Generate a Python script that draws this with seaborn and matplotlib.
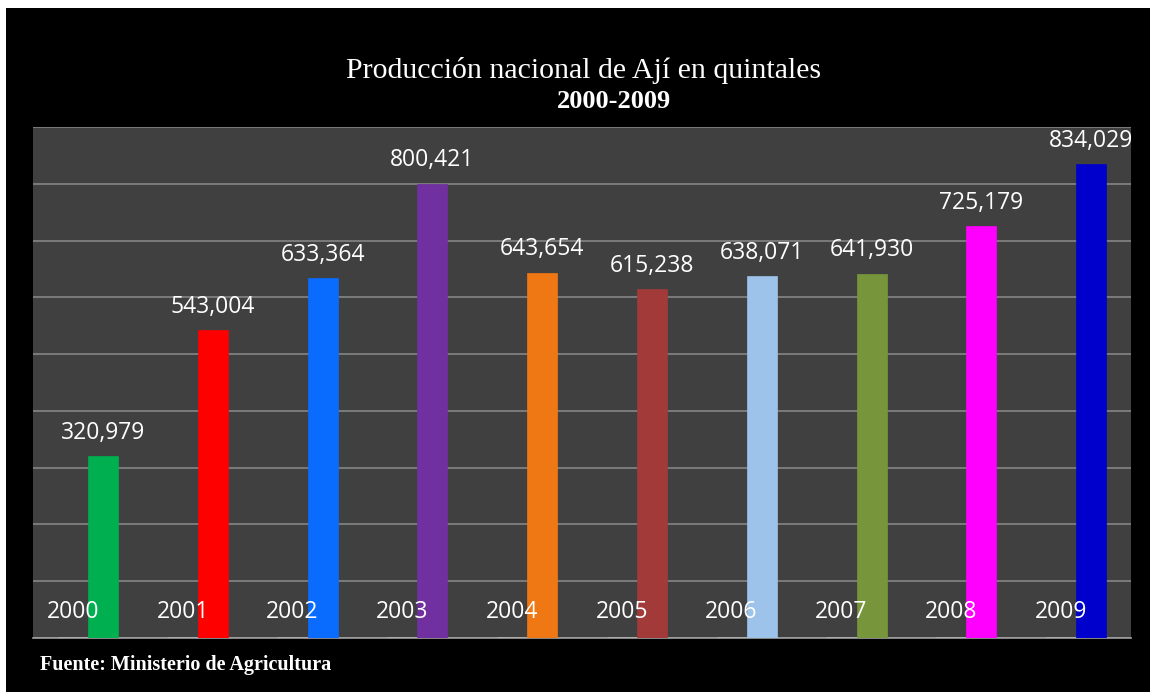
import seaborn as sns
import matplotlib.pyplot as plt
import pandas as pd
from matplotlib.patches import Rectangle

years = ["2000", "2001", "2002", "2003", "2004", "2005", "2006", "2007", "2008", "2009"]
produccion = [320979, 543004, 633364, 800421, 643654, 615238, 638071, 641930, 725179, 834029]
colores = ["#00b050", "#ff0000", "#0a6cff", "#7030a0", "#f07814", "#a33a3a",
           "#9dc3ea", "#77963c", "#ff00ff", "#0000cc"]

titulo = "Producción nacional de Ají en quintales"
subtitulo = "2000-2009"
fuente = "Fuente: Ministerio de Agricultura"

# long format: a zero "label" series next to the production series (Excel-style cluster)
df = pd.DataFrame({
    "anio": years * 2,
    "serie": ["Año"] * len(years) + ["Producción"] * len(years),
    "valor": [0] * len(years) + produccion,
})

sns.set_theme(style="dark")
plt.rcParams["font.family"] = ["Open Sans", "DejaVu Sans"]
serif = ["Liberation Serif", "DejaVu Serif"]

fig = plt.figure(figsize=(11.5, 6.92), dpi=100)
fig.patch.set_facecolor("white")
fig.patches.append(Rectangle((6 / 1150, 0), 1 - 6 / 1150, 1 - 8 / 692,
                             transform=fig.transFigure, facecolor="black",
                             edgecolor="none", zorder=-10))

ax = fig.add_axes([33 / 1150, 54 / 692, 1098 / 1150, 511 / 692])
ax.set_facecolor("#404040")

sns.barplot(data=df, x="anio", y="valor", hue="serie", order=years,
            width=0.55, dodge=True, gap=0, palette=["#3a5f8f", "#ffffff"],
            legend=False, ax=ax, zorder=3)

cont_anio, cont_prod = ax.containers[0], ax.containers[1]
for patch, c in zip(cont_prod, colores):
    patch.set_facecolor(c)
    patch.set_edgecolor(c)
    patch.set_linewidth(0.5)

ax.bar_label(cont_prod, labels=[f"{v:,}" for v in produccion], padding=8,
             color="white", fontsize=16.5, zorder=5)
ax.bar_label(cont_anio, labels=years, padding=10, color="white",
             fontsize=16.5, zorder=6)

ax.set_ylim(0, 900000)
ax.set_yticks(range(0, 900001, 100000))
ax.yaxis.grid(True, color="#858585", linewidth=1.2, zorder=0)
ax.xaxis.grid(False)
ax.set_xlim(-0.5, len(years) - 0.5)
ax.set_xticks([])
ax.set_yticklabels([])
ax.tick_params(left=False, bottom=False)
ax.set_xlabel("")
ax.set_ylabel("")
for side in ["left", "right", "top"]:
    ax.spines[side].set_visible(False)
ax.spines["bottom"].set_color("#a0a0a0")
ax.spines["bottom"].set_linewidth(1.2)

fig.text(584 / 1150, 1 - 70 / 692, titulo, ha="center", va="center",
         color="white", fontsize=21.5, family=serif)
fig.text(614 / 1150, 1 - 101 / 692, subtitulo, ha="center", va="center",
         color="white", fontsize=19, fontweight="bold", family=serif)
fig.text(40 / 1150, 1 - 665 / 692, fuente, ha="left", va="center",
         color="white", fontsize=14.5, fontweight="bold", family=serif)

fig.savefig("out.png", dpi=100, facecolor=fig.get_facecolor())
